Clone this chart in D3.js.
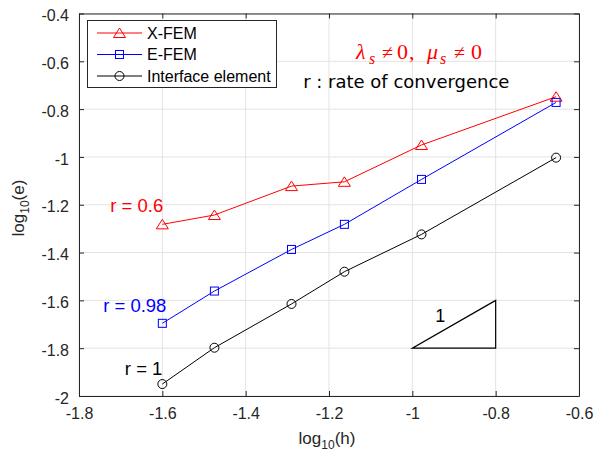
<!DOCTYPE html>
<html><head><meta charset="utf-8">
<script src="https://cdn.jsdelivr.net/npm/d3@7"></script>
<style>body{margin:0;background:#fff}svg{display:block}</style>
</head><body>
<svg id="c" width="597" height="459"></svg>
<script>
const logH = [-1.6, -1.475, -1.29, -1.163, -0.978, -0.655];
const xfem = [-1.282, -1.243, -1.122, -1.104, -0.950, -0.748];
const efem = [-1.696, -1.561, -1.387, -1.282, -1.094, -0.772];
const iface = [-1.950, -1.798, -1.615, -1.480, -1.324, -1.003];
const seriesNames = ["X-FEM", "E-FEM", "Interface element"];
const xTicks = [-1.8, -1.6, -1.4, -1.2, -1, -0.8, -0.6];
const yTicks = [-2, -1.8, -1.6, -1.4, -1.2, -1, -0.8, -0.6, -0.4];
const rateLabels = ["r = 0.6", "r = 0.98", "r = 1"];
const rateX = [-1.725, -1.742, -1.690];
const rateY = [-1.23, -1.648, -1.9125];
const slopeTri = [[-1, -1.8], [-0.8, -1.8], [-0.8, -1.6]];
const slopeLabel = "1";
const noteText = "r : rate of convergence";

const svg = d3.select("#c");
const L = 79, R = 579, T = 13.5, B = 396;
const x = d3.scaleLinear().domain([-1.8, -0.6]).range([L, R]);
const y = d3.scaleLinear().domain([-2, -0.4]).range([B, T]);
const axisCol = "#262626";
const sans = "'Liberation Sans', Arial, sans-serif";

// grid
const g = svg.append("g");
g.selectAll(".gx").data(xTicks).join("line")
  .attr("x1", d => x(d)).attr("x2", d => x(d)).attr("y1", T).attr("y2", B)
  .attr("stroke", "#e3e3e3").attr("stroke-width", 1);
g.selectAll(".gy").data(yTicks).join("line")
  .attr("y1", d => y(d)).attr("y2", d => y(d)).attr("x1", L).attr("x2", R)
  .attr("stroke", "#e3e3e3").attr("stroke-width", 1);

// axes
const fmt = d => String(d);
const ax = svg.append("g").attr("transform", `translate(0,${B})`)
  .call(d3.axisBottom(x).tickValues(xTicks).tickFormat(fmt).tickSizeInner(-5).tickSizeOuter(0).tickPadding(12));
const ay = svg.append("g").attr("transform", `translate(${L},0)`)
  .call(d3.axisLeft(y).tickValues(yTicks).tickFormat(fmt).tickSizeInner(-5).tickSizeOuter(0).tickPadding(10));
const axT = svg.append("g").attr("transform", `translate(0,${T})`)
  .call(d3.axisTop(x).tickValues(xTicks).tickFormat("").tickSizeInner(-5).tickSizeOuter(0));
const ayR = svg.append("g").attr("transform", `translate(${R},0)`)
  .call(d3.axisRight(y).tickValues(yTicks).tickFormat("").tickSizeInner(-5).tickSizeOuter(0));
[ax, ay, axT, ayR].forEach(a => {
  a.selectAll("path").attr("stroke", axisCol).attr("stroke-width", 1);
  a.selectAll("line").attr("stroke", axisCol);
  a.selectAll("text").attr("fill", axisCol).attr("font-family", sans).attr("font-size", 16);
});
ay.selectAll("text").attr("dy", "0.45em");

// series
const data = [xfem, efem, iface];
const cols = ["#ff0000", "#0000ff", "#000000"];
const markers = ["tri", "sq", "circ"];
function drawMarker(sel, type, col) {
  if (type === "tri") sel.append("path").attr("d", "M0,-5L6,4.5L-6,4.5Z");
  else if (type === "sq") sel.append("rect").attr("x", -4).attr("y", -4).attr("width", 8).attr("height", 8);
  else sel.append("circle").attr("r", 4.5);
  sel.selectAll("*").attr("fill", "none").attr("stroke", col).attr("stroke-width", 1);
}
const line = d3.line().x((d, i) => x(logH[i])).y(d => y(d));
data.forEach((s, k) => {
  svg.append("path").datum(s).attr("d", line).attr("fill", "none").attr("stroke", cols[k]).attr("stroke-width", 1);
  s.forEach((v, i) => {
    const m = svg.append("g").attr("transform", `translate(${x(logH[i])},${y(v)})`);
    drawMarker(m, markers[k], cols[k]);
  });
});

// slope triangle
svg.append("path").attr("d", d3.line().x(d => x(d[0])).y(d => y(d[1]))(slopeTri) + "Z")
  .attr("fill", "none").attr("stroke", "#000").attr("stroke-width", 1.2);
svg.append("text").attr("x", x(-0.945)).attr("y", y(-1.69)).text(slopeLabel)
  .attr("font-family", sans).attr("font-size", 18).attr("fill", "#000");

// rate labels
rateLabels.forEach((t, i) => {
  svg.append("text").attr("x", x(rateX[i])).attr("y", y(rateY[i])).text(t)
    .attr("font-family", sans).attr("font-size", 18.5).attr("fill", cols[i]);
});

// notes
svg.append("text").attr("x", x(-1.262)).attr("y", y(-0.712)).text(noteText)
  .attr("font-family", "'DejaVu Sans', sans-serif").attr("font-size", 18).attr("fill", "#000");
const lx = x(-1.135), lyb = y(-0.59);
const lam = svg.append("text").attr("x", lx).attr("y", lyb)
  .attr("font-family", "'Liberation Serif', 'DejaVu Serif', serif").attr("font-size", 22).attr("fill", "#ff0000");
const parts = [
  ["λ", 0, 0, 22, true], ["s", 13, 5, 16, true], ["≠", 26, 0, 20, false], ["0", 41, 0, 22, false], [",", 53, 0, 22, false],
  ["μ", 71, 0, 22, true], ["s", 84, 5, 16, true], ["≠", 98, 0, 20, false], ["0", 115, 0, 22, false]
];
parts.forEach(p => {
  lam.append("tspan").attr("x", lx + p[1]).attr("y", lyb + p[2]).attr("font-size", p[3])
    .attr("font-style", p[4] ? "italic" : "normal").text(p[0]);
});

// legend
const lg = svg.append("g");
lg.append("rect").attr("x", 87.5).attr("y", 20.5).attr("width", 189).attr("height", 67)
  .attr("fill", "#fff").attr("stroke", axisCol).attr("stroke-width", 1);
seriesNames.forEach((n, i) => {
  const yy = 33 + i * 21.5;
  lg.append("line").attr("x1", 97).attr("x2", 142).attr("y1", yy).attr("y2", yy).attr("stroke", cols[i]).attr("stroke-width", 1);
  const m = lg.append("g").attr("transform", `translate(119.5,${yy})`);
  drawMarker(m, markers[i], cols[i]);
  lg.append("text").attr("x", 147).attr("y", yy).attr("dy", "0.36em").text(n)
    .attr("font-family", sans).attr("font-size", 16).attr("fill", "#000");
});

// axis labels
const xl = svg.append("text").attr("x", 327).attr("y", 444).attr("text-anchor", "middle")
  .attr("font-family", sans).attr("font-size", 17).attr("fill", axisCol);
xl.append("tspan").text("log");
xl.append("tspan").attr("font-size", 12).attr("dy", 5).text("10");
xl.append("tspan").attr("dy", -5).text("(h)");
const yl = svg.append("text").attr("transform", "translate(24,208) rotate(-90)").attr("text-anchor", "middle")
  .attr("font-family", sans).attr("font-size", 17).attr("fill", axisCol);
yl.append("tspan").text("log");
yl.append("tspan").attr("font-size", 12).attr("dy", 5).text("10");
yl.append("tspan").attr("dy", -5).text("(e)");
</script>
</body></html>
